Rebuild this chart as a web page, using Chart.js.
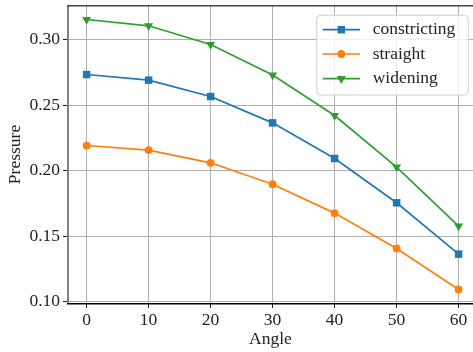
<!DOCTYPE html>
<html>
<head>
<meta charset="utf-8">
<script src="https://cdn.jsdelivr.net/npm/chart.js@4/dist/chart.umd.min.js"></script>
<style>
  html, body { margin: 0; padding: 0; background: #ffffff; }
  canvas { display: block; }
</style>
</head>
<body>
<canvas id="chart" width="473" height="352"></canvas>
<script>
// Pressure versus angle for three channel shapes
const angles = [0, 10, 20, 30, 40, 50, 60];
const constricting = [0.2735, 0.2692, 0.2567, 0.2366, 0.2094, 0.1756, 0.1364];
const straight = [0.2193, 0.2158, 0.2061, 0.1898, 0.1677, 0.1407, 0.1094];
const widening = [0.3155, 0.3107, 0.2964, 0.2731, 0.2422, 0.2028, 0.1578];

const xTicks = [0, 10, 20, 30, 40, 50, 60];
const yTicks = [0.10, 0.15, 0.20, 0.25, 0.30];

const FONT = "'Liberation Serif', 'Times New Roman', serif";
const FS = 17.5;

const seriesStyle = [
  { label: 'constricting', data: constricting, color: '#1f77b4', pointStyle: 'rect', radius: 5.3, rotation: 0 },
  { label: 'straight', data: straight, color: '#ff7f0e', pointStyle: 'circle', radius: 3.9, rotation: 0 },
  { label: 'widening', data: widening, color: '#2ca02c', pointStyle: 'triangle', radius: 5.2, rotation: 180 }
];

const datasets = seriesStyle.map(s => ({
  label: s.label,
  data: angles.map((a, i) => ({ x: a, y: s.data[i] })),
  borderColor: s.color,
  backgroundColor: s.color,
  borderWidth: 1.7,
  pointStyle: s.pointStyle,
  pointRadius: s.radius,
  pointRotation: s.rotation,
  pointBorderWidth: 0,
  pointBackgroundColor: s.color,
  tension: 0
}));

// Frame lines around the plot area
const framePlugin = {
  id: 'frame',
  afterDatasetsDraw(chart) {
    const { ctx, chartArea: a } = chart;
    ctx.save();
    ctx.fillStyle = '#808080';
    ctx.fillRect(a.left - 1, a.top - 1, 2, a.bottom - a.top + 2);
    ctx.fillStyle = '#444444';
    ctx.fillRect(a.left - 1, a.top - 1, a.right - a.left + 2, 1.5);
    ctx.fillStyle = '#000000';
    ctx.fillRect(a.left - 1, a.bottom, a.right - a.left + 2, 1.5);
    ctx.restore();
  }
};

// Boxed legend with line-and-marker handles
const legendPlugin = {
  id: 'boxLegend',
  afterDraw(chart) {
    const { ctx } = chart;
    const box = { x: 316.7, y: 15.3, w: 151.6, h: 79.7, r: 4 };
    ctx.save();
    ctx.beginPath();
    ctx.roundRect(box.x, box.y, box.w, box.h, box.r);
    ctx.fillStyle = 'rgba(255,255,255,0.8)';
    ctx.fill();
    ctx.strokeStyle = '#d0d0d0';
    ctx.lineWidth = 1;
    ctx.stroke();
    const rows = [29.7, 54.0, 78.7];
    seriesStyle.forEach((s, i) => {
      const y = rows[i];
      ctx.strokeStyle = s.color;
      ctx.lineWidth = 1.7;
      ctx.beginPath();
      ctx.moveTo(322.7, y);
      ctx.lineTo(360, y);
      ctx.stroke();
      ctx.fillStyle = s.color;
      Chart.helpers.drawPoint(ctx, {
        pointStyle: s.pointStyle, radius: s.radius, rotation: s.rotation, borderWidth: 0
      }, 341.3, y);
      ctx.fillStyle = '#222222';
      ctx.font = FS + 'px ' + FONT;
      ctx.textAlign = 'left';
      ctx.textBaseline = 'middle';
      ctx.fillText(s.label, 372.7, y);
    });
    ctx.restore();
  }
};

new Chart(document.getElementById('chart'), {
  type: 'line',
  data: { datasets },
  plugins: [framePlugin, legendPlugin],
  options: {
    responsive: false,
    animation: false,
    devicePixelRatio: 1,
    layout: { autoPadding: false, padding: { top: 6, left: 0, right: 0, bottom: 0 } },
    plugins: { legend: { display: false }, tooltip: { enabled: false } },
    scales: {
      x: {
        type: 'linear',
        min: -3,
        max: 62.32,
        afterBuildTicks: s => { s.ticks = xTicks.map(v => ({ value: v })); },
        afterFit: s => { s.height = 49; s.paddingLeft = 0; s.paddingRight = 0; },
        border: { display: false },
        grid: { color: '#b0b0b0', lineWidth: 1, drawTicks: true, tickLength: 5, tickColor: '#222222', tickWidth: 1 },
        ticks: {
          color: '#222222', padding: 2, maxRotation: 0, autoSkip: false,
          font: { family: FONT, size: FS }
        },
        title: {
          display: true, text: 'Angle', color: '#222222',
          font: { family: FONT, size: FS, lineHeight: 1.2 },
          padding: { top: 0, bottom: 2 }
        }
      },
      y: {
        type: 'linear',
        min: 0.0991,
        max: 0.3258,
        afterBuildTicks: s => { s.ticks = yTicks.map(v => ({ value: v })); },
        afterFit: s => { s.width = 68; s.paddingTop = 0; s.paddingBottom = 0; },
        border: { display: false },
        grid: { color: '#b0b0b0', lineWidth: 1, drawTicks: true, tickLength: 5, tickColor: '#222222', tickWidth: 1 },
        ticks: {
          color: '#222222', padding: 3, autoSkip: false,
          callback: v => Number(v).toFixed(2),
          font: { family: FONT, size: FS }
        },
        title: {
          display: true, text: 'Pressure', color: '#222222',
          font: { family: FONT, size: FS, lineHeight: 1.2 },
          padding: { top: 4.5, bottom: 0 }
        }
      }
    }
  }
});
</script>
</body>
</html>
